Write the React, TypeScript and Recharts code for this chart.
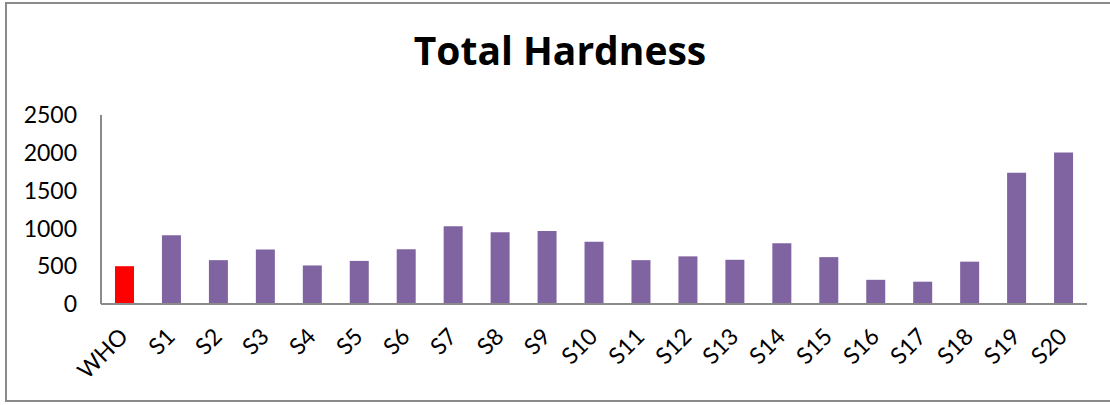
import { Bar, BarChart, Cell, XAxis, YAxis } from "recharts"

const sites = ["WHO", "S1", "S2", "S3", "S4", "S5", "S6", "S7", "S8", "S9", "S10", "S11", "S12", "S13", "S14", "S15", "S16", "S17", "S18", "S19", "S20"]
const hardness = [500, 910, 580, 720, 510, 570, 725, 1030, 950, 965, 825, 580, 630, 585, 805, 620, 320, 295, 560, 1735, 2005]
const yTicks = [0, 500, 1000, 1500, 2000, 2500]

const data = sites.map((site, i) => ({ site, hardness: hardness[i] }))

const font = "Lato, 'Open Sans', sans-serif"

const SiteTick = ({ x, y, payload }: any) => (
  <text
    transform={`translate(${x + 5},${y + 34}) rotate(-45)`}
    textAnchor="end"
    fontSize={23}
    fontFamily={font}
    fill="#000"
  >
    {payload.value}
  </text>
)

export default function App() {
  return (
    <div style={{ position: "relative", width: 1110, height: 405, background: "#fff", overflow: "hidden" }}>
      <style>{"body{margin:0}"}</style>
      <div
        style={{
          position: "absolute",
          left: 5,
          top: 2,
          width: 1120,
          height: 396,
          border: "2px solid #8a8a8a",
        }}
      />
      <div
        style={{
          position: "absolute",
          left: 0,
          top: 23,
          width: 1120,
          textAlign: "center",
          fontFamily: "'Open Sans', sans-serif",
          fontWeight: 700,
          fontSize: 39,
          color: "#000",
        }}
      >
        Total Hardness
      </div>
      <BarChart
        width={1110}
        height={405}
        data={data}
        margin={{ top: 115, right: 23, bottom: 0, left: 0 }}
        barSize={19}
        style={{ position: "absolute", left: 0, top: 0 }}
      >
        <XAxis
          dataKey="site"
          height={101}
          interval={0}
          tickLine={false}
          tickSize={0}
          tickMargin={0}
          axisLine={{ stroke: "#8a8a8a", strokeWidth: 2 }}
          tick={<SiteTick />}
        />
        <YAxis
          width={101}
          domain={[0, 2500]}
          ticks={yTicks}
          interval={0}
          tickLine={false}
          tickSize={0}
          tickMargin={24}
          axisLine={{ stroke: "#8a8a8a", strokeWidth: 2 }}
          tick={{ fill: "#000", fontSize: 23, fontFamily: font }}
        />
        <Bar dataKey="hardness" isAnimationActive={false}>
          {data.map((d) => (
            <Cell key={d.site} fill={d.site === "WHO" ? "#ff0000" : "#8064a2"} />
          ))}
        </Bar>
      </BarChart>
    </div>
  )
}
